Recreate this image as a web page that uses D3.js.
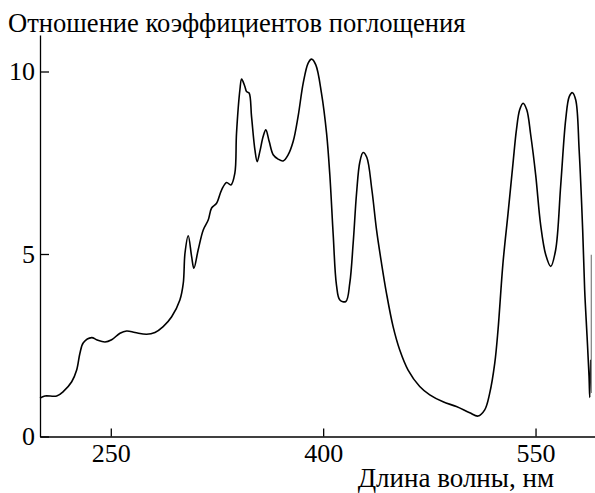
<!DOCTYPE html>
<html>
<head>
<meta charset="utf-8">
<script src="https://cdn.jsdelivr.net/npm/d3@7"></script>
<style>
  body { margin: 0; background: #fff; }
  svg text { font-family: "Liberation Serif", "Times New Roman", serif; fill: #000; }
</style>
</head>
<body>
<div id="chart"></div>
<script>
// Wavelength, nm
const wavelength = [
  200.0, 203.5, 211.8, 216.4, 222.4, 225.9, 228.2, 230.6, 236.5, 240.0,
  245.9, 250.6, 256.5, 261.2, 267.1, 275.3, 281.2, 287.0, 293.0, 298.8,
  301.2, 302.4, 304.7, 307.1, 308.7, 311.7, 315.3, 318.8, 321.2, 324.7,
  328.3, 331.8, 334.8, 337.6, 338.8, 341.2, 342.4, 344.7, 345.9, 347.7,
  349.4, 351.8, 353.4, 355.3, 357.6, 359.5, 361.9, 364.7, 368.2, 371.7,
  375.3, 378.8, 382.3, 385.9, 389.4, 391.8, 394.8, 398.8, 402.4, 404.7,
  407.1, 409.4, 411.8, 416.0, 418.8, 421.2, 423.6, 425.9, 428.2, 430.8,
  434.4, 437.7, 441.2, 444.7, 449.4, 454.1, 460.0, 468.2, 475.3, 484.7,
  494.1, 503.5, 509.4, 514.1, 517.6, 521.2, 523.5, 527.0, 530.6, 534.1,
  536.5, 538.8, 541.2, 543.8, 546.6, 550.1, 553.6, 557.2, 560.7, 564.2,
  567.8, 571.3, 573.8, 576.0, 578.4, 580.8, 583.3, 584.7, 586.4, 587.8,
  588.3, 589.0
];
// Absorption coefficient ratio
const ratio = [
  1.05, 1.11, 1.11, 1.23, 1.50, 1.82, 2.28, 2.57, 2.71, 2.65,
  2.59, 2.65, 2.83, 2.89, 2.85, 2.80, 2.85, 3.01, 3.28, 3.74,
  4.20, 5.02, 5.50, 4.93, 4.61, 5.11, 5.66, 5.93, 6.26, 6.39,
  6.76, 6.96, 6.89, 7.21, 8.31, 9.50, 9.79, 9.59, 9.45, 9.41,
  8.77, 7.85, 7.53, 7.81, 8.22, 8.40, 8.08, 7.72, 7.60, 7.55,
  7.72, 8.08, 8.77, 9.68, 10.23, 10.34, 10.18, 9.41, 8.31, 7.17,
  5.52, 4.15, 3.74, 3.70, 4.20, 5.30, 6.67, 7.52, 7.78, 7.65,
  6.76, 5.66, 4.75, 3.93, 3.01, 2.37, 1.82, 1.37, 1.14, 0.95,
  0.82, 0.65, 0.56, 0.73, 1.18, 2.01, 2.92, 4.75, 6.12, 7.49,
  8.40, 8.95, 9.13, 8.95, 8.26, 7.17, 5.80, 4.98, 4.66, 5.11,
  6.89, 8.68, 9.31, 9.42, 9.22, 7.85, 5.66, 4.02, 2.74, 1.64,
  1.07, 2.10
];
// Grey vertical stroke at the right edge
const edgeWavelength = [589.4, 589.4];
const edgeRatio = [4.98, 1.19];

const xTicks = [250, 400, 550];
const yTicks = [0, 5, 10];

const width = 595;
const height = 493;
const margin = { top: 35, right: 0, bottom: 56.5, left: 40 };
const serif = "'Liberation Serif', 'Times New Roman', serif";

const svg = d3.select("#chart")
  .append("svg")
  .attr("width", width)
  .attr("height", height);

const x = d3.scaleLinear()
  .domain([200, 592])
  .range([margin.left, width - margin.right]);

const y = d3.scaleLinear()
  .domain([0, 11])
  .range([height - margin.bottom, margin.top]);

// Axes (ticks point inward)
const xAxis = svg.append("g")
  .attr("transform", `translate(0,${y(0)})`)
  .call(d3.axisBottom(x).tickValues(xTicks).tickSize(-8).tickSizeOuter(0).tickPadding(7));

const yAxis = svg.append("g")
  .attr("transform", `translate(${x(200)},0)`)
  .call(d3.axisLeft(y).tickValues(yTicks).tickSize(-9).tickSizeOuter(0).tickPadding(5));

[xAxis, yAxis].forEach(a => {
  a.attr("font-family", serif);
  a.selectAll("path, line").attr("stroke", "#000").attr("stroke-width", 1.3);
  a.selectAll("text").attr("font-size", 26).attr("fill", "#000")
    .style("font-family", serif);
});

// Curve
const points = wavelength.map((w, i) => [w, ratio[i]]);
const line = d3.line()
  .x(d => x(d[0]))
  .y(d => y(d[1]))
  .curve(d3.curveCatmullRom.alpha(0.5));

svg.append("path")
  .datum(points)
  .attr("fill", "none")
  .attr("stroke", "#000")
  .attr("stroke-width", 1.6)
  .attr("stroke-linejoin", "round")
  .attr("d", line);

svg.append("path")
  .datum(edgeWavelength.map((w, i) => [w, edgeRatio[i]]))
  .attr("fill", "none")
  .attr("stroke", "#888")
  .attr("stroke-width", 1.3)
  .attr("d", d3.line().x(d => x(d[0])).y(d => y(d[1])));

// Titles
svg.append("text")
  .attr("x", 8)
  .attr("y", 32)
  .attr("font-size", 26.6)
  .style("font-family", serif)
  .text("Отношение коэффициентов поглощения");

svg.append("text")
  .attr("x", 554)
  .attr("y", 487)
  .attr("text-anchor", "end")
  .attr("font-size", 27)
  .style("font-family", serif)
  .text("Длина волны, нм");
</script>
</body>
</html>
